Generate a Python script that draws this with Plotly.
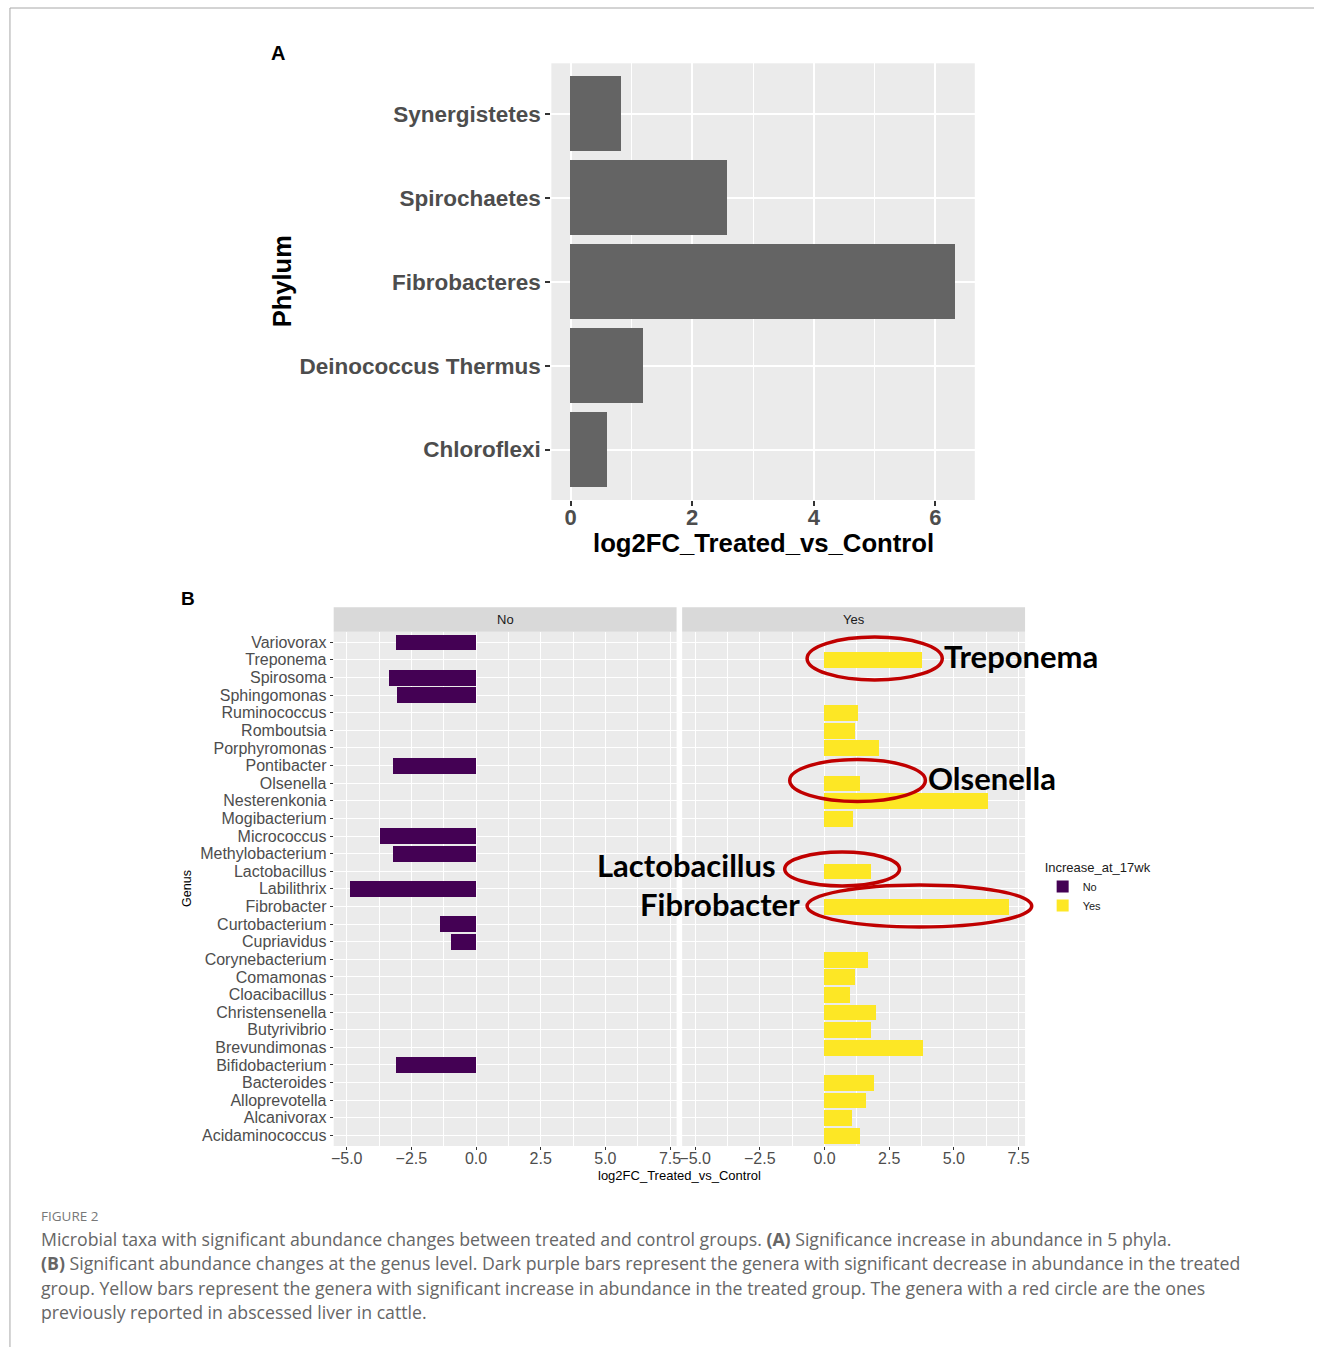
import plotly.graph_objects as go

# ---------------- data ----------------
# Panel A: phylum-level log2 fold change
phyla = ["Chloroflexi", "Deinococcus Thermus", "Fibrobacteres", "Spirochaetes", "Synergistetes"]
phylum_lfc = [0.60, 1.19, 6.33, 2.58, 0.84]

# Panel B: genus-level log2 fold change, split by direction
genera = ["Acidaminococcus", "Alcanivorax", "Alloprevotella", "Bacteroides", "Bifidobacterium",
          "Brevundimonas", "Butyrivibrio", "Christensenella", "Cloacibacillus", "Comamonas",
          "Corynebacterium", "Cupriavidus", "Curtobacterium", "Fibrobacter", "Labilithrix",
          "Lactobacillus", "Methylobacterium", "Micrococcus", "Mogibacterium", "Nesterenkonia",
          "Olsenella", "Pontibacter", "Porphyromonas", "Romboutsia", "Ruminococcus",
          "Sphingomonas", "Spirosoma", "Treponema", "Variovorax"]

down_genera = ["Variovorax", "Spirosoma", "Sphingomonas", "Pontibacter", "Micrococcus",
               "Methylobacterium", "Labilithrix", "Curtobacterium", "Cupriavidus", "Bifidobacterium"]
down_lfc = [-3.10, -3.36, -3.06, -3.24, -3.72, -3.24, -4.90, -1.40, -0.99, -3.10]

up_genera = ["Treponema", "Ruminococcus", "Romboutsia", "Porphyromonas", "Olsenella",
             "Nesterenkonia", "Mogibacterium", "Lactobacillus", "Fibrobacter", "Corynebacterium",
             "Comamonas", "Cloacibacillus", "Christensenella", "Butyrivibrio", "Brevundimonas",
             "Bacteroides", "Alloprevotella", "Alcanivorax", "Acidaminococcus"]
up_lfc = [3.78, 1.31, 1.19, 2.11, 1.38, 6.32, 1.10, 1.79, 7.15, 1.68,
          1.19, 1.01, 2.01, 1.82, 3.82, 1.92, 1.60, 1.08, 1.38]

facet_labels = ["No", "Yes"]
highlighted = ["Treponema", "Olsenella", "Lactobacillus", "Fibrobacter"]

caption_title = "FIGURE 2"
caption_lines = [
    "Microbial taxa with significant abundance changes between treated and control groups. "
    "<b>(A)</b> Significance increase in abundance in 5 phyla.",
    "<b>(B)</b> Significant abundance changes at the genus level. Dark purple bars represent the genera "
    "with significant decrease in abundance in the treated",
    "group. Yellow bars represent the genera with significant increase in abundance in the treated "
    "group. The genera with a red circle are the ones",
    "previously reported in abscessed liver in cattle.",
]

# ---------------- layout helpers ----------------
W, H = 1319, 1347


def px(x):
    return x / W


def py(y):
    return 1 - y / H


BG = "#EBEBEB"
TICK_GREY = "#4D4D4D"
PURPLE = "#440154"
YELLOW = "#FDE725"
RING = "#C00000"
SANS = "Liberation Sans, Arial, sans-serif"

fig = go.Figure()

# Panel A bars
fig.add_trace(go.Bar(
    x=phylum_lfc, y=phyla, orientation="h", width=0.9,
    marker=dict(color="#646464", line=dict(width=0)),
    xaxis="x", yaxis="y", showlegend=False,
))

# Panel B bars, one facet per direction
fig.add_trace(go.Bar(
    x=down_lfc, y=down_genera, orientation="h", width=0.9, name=facet_labels[0],
    marker=dict(color=PURPLE, line=dict(width=0)),
    xaxis="x2", yaxis="y2",
))
fig.add_trace(go.Bar(
    x=up_lfc, y=up_genera, orientation="h", width=0.9, name=facet_labels[1],
    marker=dict(color=YELLOW, line=dict(width=0)),
    xaxis="x3", yaxis="y2",
))

# ---- axes ----
A_L, A_R, A_T, A_B = 551.7, 977.7, 63.3, 500.0
B_T, B_B = 631.7, 1146.0
NO_L, NO_R = 332.7, 677.7
YES_L, YES_R = 683.3, 1028.3

lfc_min = min(min(down_lfc), min(up_lfc))
lfc_max = max(max(down_lfc), max(up_lfc))
pad_b = 0.05 * (lfc_max - lfc_min)
pad_a = 0.05 * max(phylum_lfc)

axis_a_x = dict(
    domain=[px(A_L), px(A_R)], anchor="y", range=[-pad_a, max(phylum_lfc) + pad_a],
    dtick=2, tick0=0, showgrid=True, gridcolor="white", gridwidth=2.2,
    minor=dict(dtick=1, tick0=0, showgrid=True, gridcolor="white", gridwidth=1.1),
    zeroline=False, showline=False,
    ticks="outside", ticklen=5, tickwidth=2, tickcolor="#333333", ticklabelstandoff=-7,
    tickfont=dict(family=SANS, size=22, color=TICK_GREY, weight="bold"),
)
axis_a_y = dict(
    domain=[py(A_B), py(A_T)], anchor="x", type="category",
    categoryorder="array", categoryarray=phyla, range=[-0.6, len(phyla) - 0.4],
    tickmode="linear", dtick=1,
    showgrid=True, gridcolor="white", gridwidth=2.2, zeroline=False, showline=False,
    ticks="outside", ticklen=5, tickwidth=2, tickcolor="#333333",
    tickfont=dict(family=SANS, size=22.5, color=TICK_GREY, weight="bold"),
)

facet_x = dict(
    range=[lfc_min - pad_b, lfc_max + pad_b], dtick=2.5, tick0=0, tickformat=".1f",
    showgrid=True, gridcolor="white", gridwidth=1.3,
    minor=dict(dtick=1.25, tick0=0, showgrid=True, gridcolor="white", gridwidth=0.6),
    zeroline=False, showline=False,
    ticks="outside", ticklen=3, tickwidth=1, tickcolor="#333333", ticklabelstandoff=-5,
    tickfont=dict(family=SANS, size=16, color=TICK_GREY),
)

fig.update_layout(
    width=W, height=H, autosize=False,
    margin=dict(l=0, r=0, t=0, b=0),
    paper_bgcolor="white", plot_bgcolor=BG,
    barmode="overlay", bargap=0,
    font=dict(family=SANS),
    xaxis=axis_a_x, yaxis=axis_a_y,
    xaxis2=dict(domain=[px(NO_L), px(NO_R)], anchor="y2", **facet_x),
    xaxis3=dict(domain=[px(YES_L), px(YES_R)], anchor="y2", **facet_x),
    yaxis2=dict(
        domain=[py(B_B), py(B_T)], anchor="x2", type="category",
        categoryorder="array", categoryarray=genera, range=[-0.6, len(genera) - 0.4],
        tickmode="linear", dtick=1,
        showgrid=True, gridcolor="white", gridwidth=1.3, zeroline=False, showline=False,
        ticks="outside", ticklen=3, tickwidth=1, tickcolor="#333333",
        tickfont=dict(family=SANS, size=16, color=TICK_GREY),
    ),
    legend=dict(
        x=px(1046), y=py(855), xanchor="left", yanchor="top",
        title=dict(text="Increase_at_17wk", font=dict(family=SANS, size=13, color="#1A1A1A")),
        font=dict(family=SANS, size=11, color="#1A1A1A"),
        bgcolor="rgba(0,0,0,0)", traceorder="normal", itemwidth=30,
    ),
    showlegend=True,
)

shapes = []
annotations = []

# outer frame of the figure page
shapes.append(dict(type="line", xref="paper", yref="paper", x0=px(7), x1=1, y0=py(8), y1=py(8),
                   line=dict(color="#A8A8A8", width=1)))
shapes.append(dict(type="line", xref="paper", yref="paper", x0=px(7), x1=px(7), y0=py(8), y1=0,
                   line=dict(color="#A8A8A8", width=1)))

# facet strips
for label, (l, r) in zip(facet_labels, [(NO_L, NO_R), (YES_L, YES_R)]):
    shapes.append(dict(type="rect", xref="paper", yref="paper", x0=px(l), x1=px(r),
                       y0=py(B_T), y1=py(607.3), fillcolor="#D9D9D9", line=dict(width=0), layer="below"))
    annotations.append(dict(text=label, xref="paper", yref="paper", x=px((l + r) / 2), y=py(619.5),
                            showarrow=False, xanchor="center", yanchor="middle",
                            font=dict(family=SANS, size=13, color="#1A1A1A")))

# red rings around genera of interest, with their callout names
ring_boxes = {
    "Treponema": (809, 945, 637, 680),
    "Olsenella": (791.5, 928, 759.5, 801.5),
    "Lactobacillus": (786.5, 902, 852, 886),
    "Fibrobacter": (809, 1035, 885, 927),
}
callouts = {
    "Treponema": (946, 656, "left"),
    "Olsenella": (930, 778, "left"),
    "Lactobacillus": (779, 865, "right"),
    "Fibrobacter": (803, 904, "right"),
}
for name in highlighted:
    x0, x1, y0, y1 = ring_boxes[name]
    shapes.append(dict(type="circle", xref="paper", yref="paper", x0=px(x0), x1=px(x1),
                       y0=py(y1), y1=py(y0), line=dict(color=RING, width=3.5), layer="above"))
    cx, cy, anchor = callouts[name]
    annotations.append(dict(text=f"<b>{name}</b>", xref="paper", yref="paper", x=px(cx), y=py(cy),
                            showarrow=False, xanchor=anchor, yanchor="middle", borderpad=0,
                            font=dict(family="Lato, Open Sans, sans-serif", size=31, color="black")))

# axis titles
annotations += [
    dict(text="<b>Phylum</b>", xref="paper", yref="paper", x=px(281), y=py(281), textangle=-90,
         showarrow=False, xanchor="center", yanchor="middle",
         font=dict(family=SANS, size=25.5, color="black")),
    dict(text="<b>log2FC_Treated_vs_Control</b>", xref="paper", yref="paper",
         x=px((A_L + A_R) / 2), y=py(543), showarrow=False, xanchor="center", yanchor="middle",
         font=dict(family=SANS, size=25.7, color="black")),
    dict(text="Genus", xref="paper", yref="paper", x=px(185), y=py(888), textangle=-90,
         showarrow=False, xanchor="center", yanchor="middle",
         font=dict(family=SANS, size=12.5, color="black")),
    dict(text="log2FC_Treated_vs_Control", xref="paper", yref="paper",
         x=px((NO_L + YES_R) / 2), y=py(1175), showarrow=False, xanchor="center", yanchor="middle",
         font=dict(family=SANS, size=13, color="black")),
    dict(text="<b>A</b>", xref="paper", yref="paper", x=px(277), y=py(53), showarrow=False,
         xanchor="center", yanchor="middle", font=dict(family=SANS, size=20, color="black")),
    dict(text="<b>B</b>", xref="paper", yref="paper", x=px(186), y=py(598), showarrow=False,
         xanchor="center", yanchor="middle", font=dict(family=SANS, size=19, color="black")),
]

# caption
annotations.append(dict(text=caption_title, xref="paper", yref="paper", x=px(36), y=py(1216),
                        showarrow=False, xanchor="left", yanchor="middle",
                        font=dict(family="Open Sans, sans-serif", size=13.5, color="#777777")))
for i, line in enumerate(caption_lines):
    annotations.append(dict(text=line, xref="paper", yref="paper", x=px(36), y=py(1239 + 24.4 * i),
                            showarrow=False, xanchor="left", yanchor="middle",
                            font=dict(family="Open Sans, sans-serif", size=17.7, color="#666666")))

fig.update_layout(shapes=shapes, annotations=annotations)

fig.write_html("out.html")
